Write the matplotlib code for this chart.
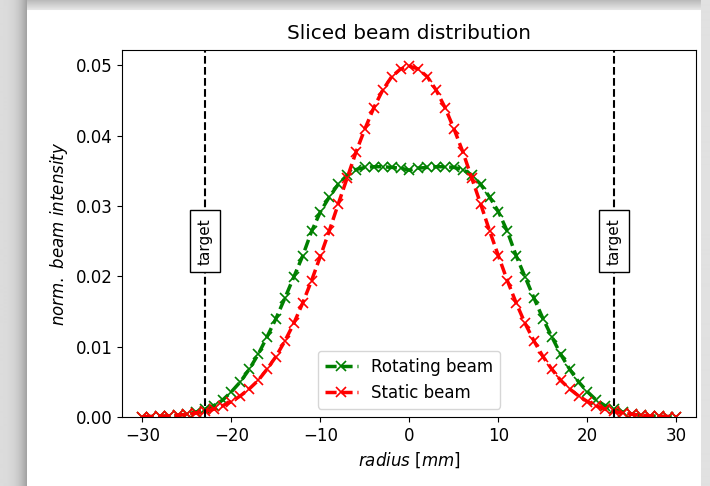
import numpy as np
import matplotlib
matplotlib.use('Agg')
import matplotlib.pyplot as plt

# radius positions [mm], one point per mm
radius = list(range(-30, 31))

# right half (0..30), curves are symmetric
static_half = [0.0499, 0.0495, 0.0484, 0.0465, 0.0440, 0.0410, 0.0377, 0.0340,
               0.0303, 0.0265, 0.0229, 0.0194, 0.0162, 0.0133, 0.0108, 0.0086,
               0.0068, 0.0052, 0.0040, 0.0030, 0.0022, 0.0016, 0.0011, 0.0008,
               0.00055, 0.00038, 0.00025, 0.00017, 0.00011, 0.00007, 0.00004]
rotating_half = [0.0351, 0.0354, 0.0355, 0.0356, 0.0356, 0.0355, 0.0352, 0.0344,
                 0.0331, 0.0313, 0.0292, 0.0264, 0.0229, 0.0199, 0.0169, 0.0140,
                 0.0114, 0.0089, 0.0068, 0.0050, 0.0036, 0.0024, 0.0016, 0.0011,
                 0.0007, 0.0004, 0.00025, 0.00016, 0.0001, 0.00006, 0.00004]

static_beam = static_half[:0:-1] + static_half
rotating_beam = rotating_half[:0:-1] + rotating_half

target_r = 23
target_label = 'target'

plt.rcParams['font.size'] = 12
plt.rcParams['mathtext.fontset'] = 'dejavusans'

fig = plt.figure(figsize=(7.1, 4.86), dpi=100)

# screenshot drop shadow around the figure
bg = fig.add_axes([0, 0, 1, 1], zorder=-10)
h, w = 486, 710
img = np.ones((h, w))
cols = np.arange(w)
rows = np.arange(h)
left = np.where(cols < 27, 0.86 - 0.25 * (cols / 27.0) ** 3, 1.0)
right = np.where(cols > 700, 0.88, 1.0)
top = np.where(rows < 11, 0.72 + 0.2 * (rows / 11.0), 1.0)
img = np.minimum(img, left[None, :])
img = np.minimum(img, right[None, :])
img[:11, 27:701] = np.minimum(img[:11, 27:701], top[:11, None])
bg.imshow(img, cmap='gray', vmin=0, vmax=1, aspect='auto', interpolation='bilinear')
bg.axis('off')

ax = fig.add_axes([122 / 710, 69 / 486, 574 / 710, 367 / 486])

ax.plot(radius, rotating_beam, 'gx--', lw=2.5, ms=7, mew=1.2, dashes=(3.2, 1.4),
        label='Rotating beam')
ax.plot(radius, static_beam, 'rx--', lw=2.5, ms=7, mew=1.2, dashes=(3.2, 1.4),
        label='Static beam')

for r in (-target_r, target_r):
    ax.axvline(r, color='k', ls='--', lw=1.5)
    ax.text(r, 0.025, target_label, rotation=90, ha='center', va='center', fontsize=11,
            bbox=dict(boxstyle='square,pad=0.5', fc='white', ec='k'))

ax.set_xlim(-32.3, 32.2)
ax.set_ylim(0, 0.0522)
ax.set_xticks([-30, -20, -10, 0, 10, 20, 30])
ax.set_yticks([0, 0.01, 0.02, 0.03, 0.04, 0.05])
ax.set_title('Sliced beam distribution', pad=8)
ax.set_xlabel(r'$radius\ [mm]$')
ax.set_ylabel(r'$norm.\ beam\ intensity$')
ax.legend(loc='lower center')

fig.savefig('out.png', dpi=100)
